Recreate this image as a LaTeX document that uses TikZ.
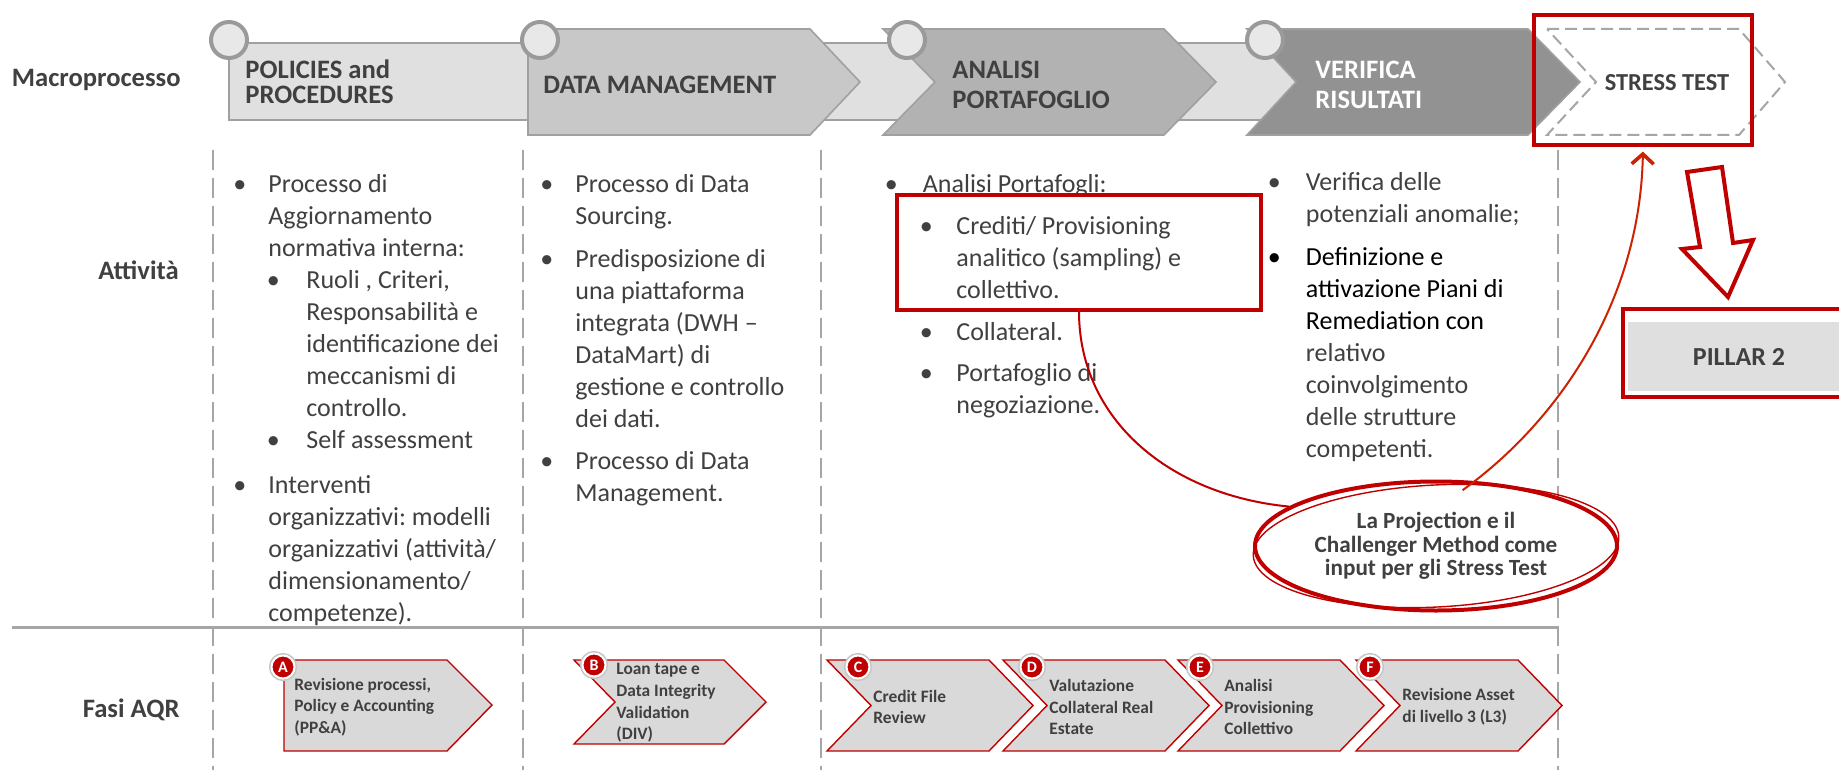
\documentclass[tikz,border=0pt]{standalone}
\usepackage{fontspec}
\setmainfont{Carlito}
\usetikzlibrary{shapes.geometric,arrows.meta,decorations.pathmorphing}

\definecolor{txt}{HTML}{404040}
\definecolor{penred}{HTML}{C00000}
\definecolor{arrred}{HTML}{CC2200}
\definecolor{barfill}{HTML}{E0E0E0}
\definecolor{dmfill}{HTML}{C8C8C8}
\definecolor{apfill}{HTML}{B2B2B2}
\definecolor{vrfill}{HTML}{929292}
\definecolor{phfill}{HTML}{D9D9D9}
\definecolor{pillfill}{HTML}{DFDFDF}
\definecolor{linegray}{HTML}{A6A6A6}
\definecolor{edgegray}{HTML}{A0A0A0}
\definecolor{dotfill}{HTML}{E8E8E8}
\definecolor{dotline}{HTML}{9A9A9A}

\frenchspacing

% bullet item: #1 bullet offset, #2 text indent, #3 lines
\newcommand{\itm}[3]{\par\spaceskip=0pt\xspaceskip=0pt\hangindent=#2\hangafter=0\noindent\llap{\makebox[\dimexpr #2-#1\relax][l]{\textbullet}}\strut#3\par}

\begin{document}
\begin{tikzpicture}[x=0.5pt,y=-0.5pt]
\tikzset{
	rowlbl/.style = {
		anchor=east, inner sep=0, text=txt,
		font=\fontsize{13.3}{16}\selectfont\bfseries
	},
	toplbl/.style = {
		anchor=west, align=left, inner sep=0, text=txt,
		font=\fontsize{13.3}{15}\selectfont\bfseries
	},
	topbox/.style = {
		draw=edgegray, line width=0.8pt
	},
	dashbox/.style = {
		draw=linegray, line width=1pt, fill=white,
		dash pattern=on 6pt off 3pt
	},
	dot/.style = {
		circle, draw=dotline, line width=2pt, fill=dotfill,
		minimum size=18pt, inner sep=0
	},
	col/.style = {
		anchor=north west, inner sep=0, text width=#1, align=left,
		text=txt, font=\fontsize{13}{16}\selectfont
	},
	sep/.style = {
		draw=linegray, line width=1.2pt, dash pattern=on 10pt off 4pt
	},
	hline/.style = {
		draw=linegray, line width=1.5pt
	},
	redbox/.style = {
		draw=penred, line width=1.6pt, inner sep=0,
		postaction={draw=penred, line width=0.5pt, decorate,
			decoration={random steps, segment length=5pt, amplitude=0.7pt}}
	},
	projell/.style = {
		ellipse, draw=penred, line width=2pt, fill=white,
		minimum width=181pt, minimum height=64.5pt, inner sep=0,
		align=center, text=txt, font=\fontsize{11.6}{11.8}\selectfont\bfseries
	},
	pen/.style = {
		draw=penred, line width=1pt
	},
	arr/.style = {
		draw=arrred, line width=1pt, shorten >=2.5pt,
		-{Straight Barb[length=5pt, width=11pt, line width=1.8pt]}
	},
	hollow/.style = {
		draw=penred, line width=2pt, fill=white, line join=miter
	},
	pillar/.style = {
		fill=pillfill, minimum width=111pt, minimum height=34.5pt,
		inner sep=0, text=txt, font=\fontsize{13}{15}\selectfont\bfseries
	},
	phase/.style = {
		draw=penred, line width=0.7pt, fill=phfill
	},
	phlbl/.style = {
		anchor=west, align=left, inner sep=0, text=txt,
		font=\fontsize{8.7}{10.8}\selectfont\bfseries
	},
	badge/.style = {
		circle, fill=penred, draw=white, line width=1pt,
		preaction={draw=gray!45, line width=2.6pt},
		minimum size=11.5pt, inner sep=0, text=white,
		font=\fontsize{8}{8}\selectfont\bfseries
	},
}

\fill[white] (0,0) rectangle (1839,770);
\useasboundingbox (0,0) rectangle (1839,770);

% row labels
\node[rowlbl] (macro) at (181,80) {Macroprocesso};
\node[rowlbl] (attiv) at (179,270) {Attività};
\node[rowlbl] (fasi) at (180,710) {Fasi AQR};

% columns
\foreach \x in {213,523,821,1558}
  \draw[sep] (\x,150) -- (\x,770);
\draw[hline] (12,627) -- (1558,627);

% macroprocesso bar
\draw[topbox, fill=barfill] (229,43) rectangle (1500,120);
\draw[topbox, fill=dmfill] (528,29) -- (810,29) -- (860,82) -- (810,135) -- (528,135) -- cycle;
\draw[topbox, fill=apfill] (883,29) -- (1164,29) -- (1216,82) -- (1164,135) -- (883,135) -- (935,82) -- cycle;
\draw[topbox, fill=vrfill] (1247,29) -- (1528,29) -- (1580,82) -- (1528,135) -- (1247,135) -- (1296,82) -- cycle;
\draw[dashbox] (1547,29) -- (1739,29) -- (1785,82) -- (1739,135) -- (1547,135) -- (1596,82) -- cycle;

\foreach \x [count=\i] in {229,540,907,1265}
  \node[dot] (c\i) at (\x,40) {};

\node[toplbl, font=\fontsize{13.3}{12.5}\selectfont\bfseries] (polic) at (245,82) {POLICIES and\\PROCEDURES};
\node[toplbl] (datam) at (543,85) {DATA MANAGEMENT};
\node[toplbl] (anport) at (952,85) {ANALISI\\PORTAFOGLIO};
\node[toplbl, text=white] (verif) at (1315,85) {VERIFICA\\RISULTATI};
\node[toplbl, anchor=center, font=\fontsize{12.2}{14}\selectfont\bfseries] (stress) at (1667,83) {STRESS TEST};
\node[redbox, minimum width=109pt, minimum height=65pt] (stressbox) at (1643,80) {};

% attivita
\node[col=150pt] (col1) at (233,160) {%
  \itm{0pt}{17.5pt}{Processo di\newline Aggiornamento\newline normativa interna:}%
  \itm{16.75pt}{36.5pt}{Ruoli , Criteri,\newline Responsabilità e\newline identificazione dei\newline meccanismi di\newline controllo.}%
  \itm{16.75pt}{36.5pt}{Self assessment}%
  \vspace{6.5pt}%
  \itm{0pt}{17.5pt}{Interventi\newline organizzativi: modelli\newline organizzativi (attività/\newline dimensionamento/\newline competenze).}};
\node[col=145pt] (col2) at (540,160) {%
  \itm{0pt}{17.5pt}{Processo di Data\newline Sourcing.}%
  \vspace{5.5pt}%
  \itm{0pt}{17.5pt}{Predisposizione di\newline una piattaforma\newline integrata (DWH --\newline DataMart) di\newline gestione e controllo\newline dei dati.}%
  \vspace{5pt}%
  \itm{0pt}{17.5pt}{Processo di Data\newline Management.}};
\node[col=190pt] (col3) at (884.5,160) {%
  \itm{0pt}{19pt}{Analisi Portafogli:}%
  \vspace{5pt}%
  \itm{17.5pt}{35.75pt}{Crediti/ Provisioning\newline analitico (sampling) e\newline collettivo.}%
  \vspace{5pt}%
  \itm{17.5pt}{35.75pt}{Collateral.}%
  \vspace{4.5pt}%
  \itm{17.5pt}{35.75pt}{Portafoglio di\newline negoziazione.}};
\node[col=142pt] (col4) at (1267.5,158) {%
  \itm{0pt}{19pt}{Verifica delle\newline potenziali anomalie;}%
  \vspace{5.5pt}%
  {\color{black}\itm{0pt}{19pt}{Definizione e\newline attivazione Piani di\newline Remediation con\newline\color{txt}relativo\newline coinvolgimento\newline delle strutture\newline competenti.}}};

\node[redbox, minimum width=182pt, minimum height=57.5pt] (credbox) at (1079,252.5) {};

% projection
\node[projell] (proj) at (1436,546) {La Projection e il\\Challenger Method come\\input per gli Stress Test};
\draw[penred, line width=0.7pt] (proj.center) ellipse [x radius=183, y radius=61, rotate=3];
\draw[pen] (credbox.south) .. controls (1079,420) and (1170,495) .. (proj.165);
\draw[arr] ([yshift=-5pt]proj.68) .. controls (1560,420) and (1640,300) .. (stressbox.south);

% pillar 2
\draw[hollow] (1687,172) -- (1722,167) -- (1733,243) -- (1753,240) -- (1728,297) -- (1682,249) -- (1700,247) -- cycle;
\node[pillar] (pillar) at (1739,356.5) {PILLAR 2};
\node[redbox, minimum width=119pt, minimum height=44pt] (pillarbox) at (1742,353) {};

% fasi AQR
\draw[phase] (284,660) -- (447,660) -- (492,705) -- (447,751) -- (284,751) -- cycle;
\node[phlbl] (pA) at (294,707) {Revisione processi,\\Policy e Accounting\\(PP\&A)};
\node[badge] (bA) at (283,667) {A};
\draw[phase] (574,660) -- (724,660) -- (766,702) -- (724,744) -- (574,744) -- (615,702) -- cycle;
\node[phlbl] (pB) at (616,703) {Loan tape e\\Data Integrity\\Validation\\(DIV)};
\node[badge] (bB) at (594,665) {B};
\foreach \x/\b/\l/\lbl in {827/858/C/{Credit File\\Review},
    1003/1032/D/{Valutazione\\Collateral Real\\Estate},
    1178/1200/E/{Analisi\\Provisioning\\Collettivo},
    1356/1370/F/{Revisione Asset\\di livello 3 (L3)}}
{
  \draw[phase] (\x,660) -- ++(162,0) -- ++(44,45.5) -- ++(-44,45.5) -- ++(-162,0) -- ++(44,-45.5) -- cycle;
  \node[phlbl] (p\l) at (\x+46,707) {\lbl};
  \node[badge] (b\l) at (\b,667) {\l};
}

\end{tikzpicture}
\end{document}
